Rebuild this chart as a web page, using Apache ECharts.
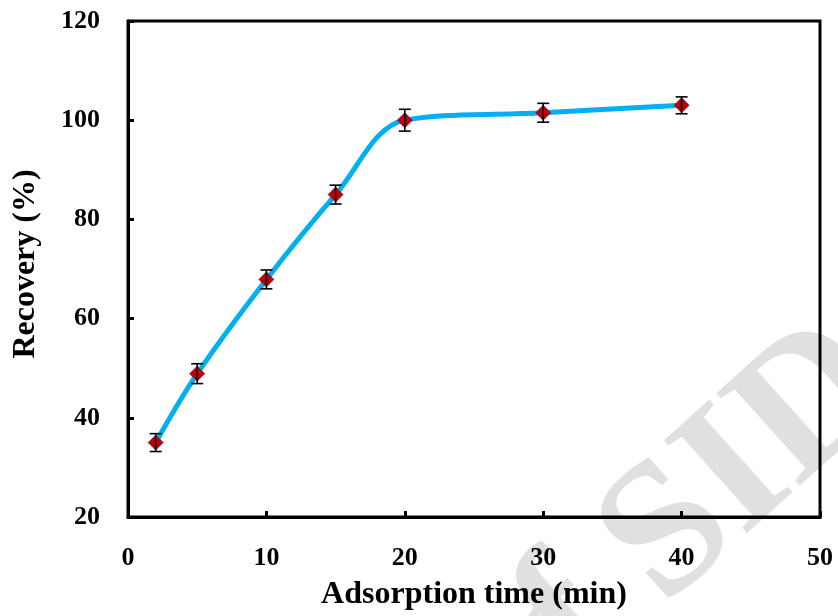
<!DOCTYPE html>
<html>
<head>
<meta charset="utf-8">
<script src="https://cdn.jsdelivr.net/npm/echarts@6/dist/echarts.min.js"></script>
<style>html,body{margin:0;padding:0;background:#fff;}#c{width:838px;height:616px;}</style>
</head>
<body>
<div id="c"></div>
<script>
var times = [2, 5, 10, 15, 20, 30, 40];
var recovery = [35, 48.9, 67.9, 85, 100, 101.5, 103];
var errors = [1.8, 2, 1.9, 1.9, 2.2, 1.9, 1.7];
var xTicks = [0, 10, 20, 30, 40, 50];
var yTicks = [20, 40, 60, 80, 100, 120];

var FONT = '"Liberation Serif", "Times New Roman", serif';
var chart = echarts.init(document.getElementById('c'));
var lineData = times.map(function (t, i) { return [t, recovery[i]]; });
var errData = times.map(function (t, i) { return [t, recovery[i] - errors[i], recovery[i] + errors[i]]; });

chart.setOption({
  backgroundColor: '#fff',
  animation: false,
  graphic: [{
    type: 'text', z: -10, x: 930, y: 430, rotation: 42 * Math.PI / 180,
    style: { text: 'Archive of SID', fill: '#e0e0e0', font: 'bold 190px ' + FONT, textAlign: 'right', textVerticalAlign: 'bottom' }
  }],
  grid: { left: 128, right: 18, top: 21, bottom: 93.5, show: true, borderColor: '#000', borderWidth: 3, backgroundColor: 'transparent', z: 5 },
  xAxis: {
    type: 'value', min: xTicks[0], max: xTicks[xTicks.length - 1], interval: 10,
    name: 'Adsorption time (min)', nameLocation: 'middle', nameGap: 62,
    nameTextStyle: { fontFamily: FONT, fontWeight: 'bold', fontSize: 32, color: '#000' },
    axisLine: { lineStyle: { color: '#000', width: 3 } },
    axisTick: { inside: true, length: 6, lineStyle: { color: '#000', width: 3 } },
    axisLabel: { margin: 28, fontFamily: FONT, fontWeight: 'bold', fontSize: 26, color: '#000' },
    splitLine: { show: false }
  },
  yAxis: {
    type: 'value', min: yTicks[0], max: yTicks[yTicks.length - 1], interval: 20,
    name: 'Recovery (%)', nameLocation: 'middle', nameGap: 86,
    nameTextStyle: { fontFamily: FONT, fontWeight: 'bold', fontSize: 32, color: '#000', padding: [0, 0, 0, 10] },
    axisLine: { lineStyle: { color: '#000', width: 3 } },
    axisTick: { inside: true, length: 6, lineStyle: { color: '#000', width: 3 } },
    axisLabel: { margin: 28, fontFamily: FONT, fontWeight: 'bold', fontSize: 26, color: '#000' },
    splitLine: { show: false }
  },
  series: [{
    type: 'line', data: lineData, smooth: 0.35, z: 3,
    lineStyle: { color: '#00B0F0', width: 5 },
    symbol: 'diamond', symbolSize: 15,
    itemStyle: { color: '#C00000', borderColor: '#7a1a4a', borderWidth: 0.8 }
  }, {
    type: 'custom', data: errData, z: 4,
    renderItem: function (params, api) {
      var x = api.value(0);
      var lo = api.coord([x, api.value(1)]);
      var hi = api.coord([x, api.value(2)]);
      var w = 6;
      var st = { stroke: '#000', lineWidth: 1.6 };
      return { type: 'group', children: [
        { type: 'line', shape: { x1: lo[0], y1: lo[1], x2: hi[0], y2: hi[1] }, style: st },
        { type: 'line', shape: { x1: lo[0] - w, y1: lo[1], x2: lo[0] + w, y2: lo[1] }, style: st },
        { type: 'line', shape: { x1: hi[0] - w, y1: hi[1], x2: hi[0] + w, y2: hi[1] }, style: st }
      ]};
    }
  }]
});
</script>
</body>
</html>
